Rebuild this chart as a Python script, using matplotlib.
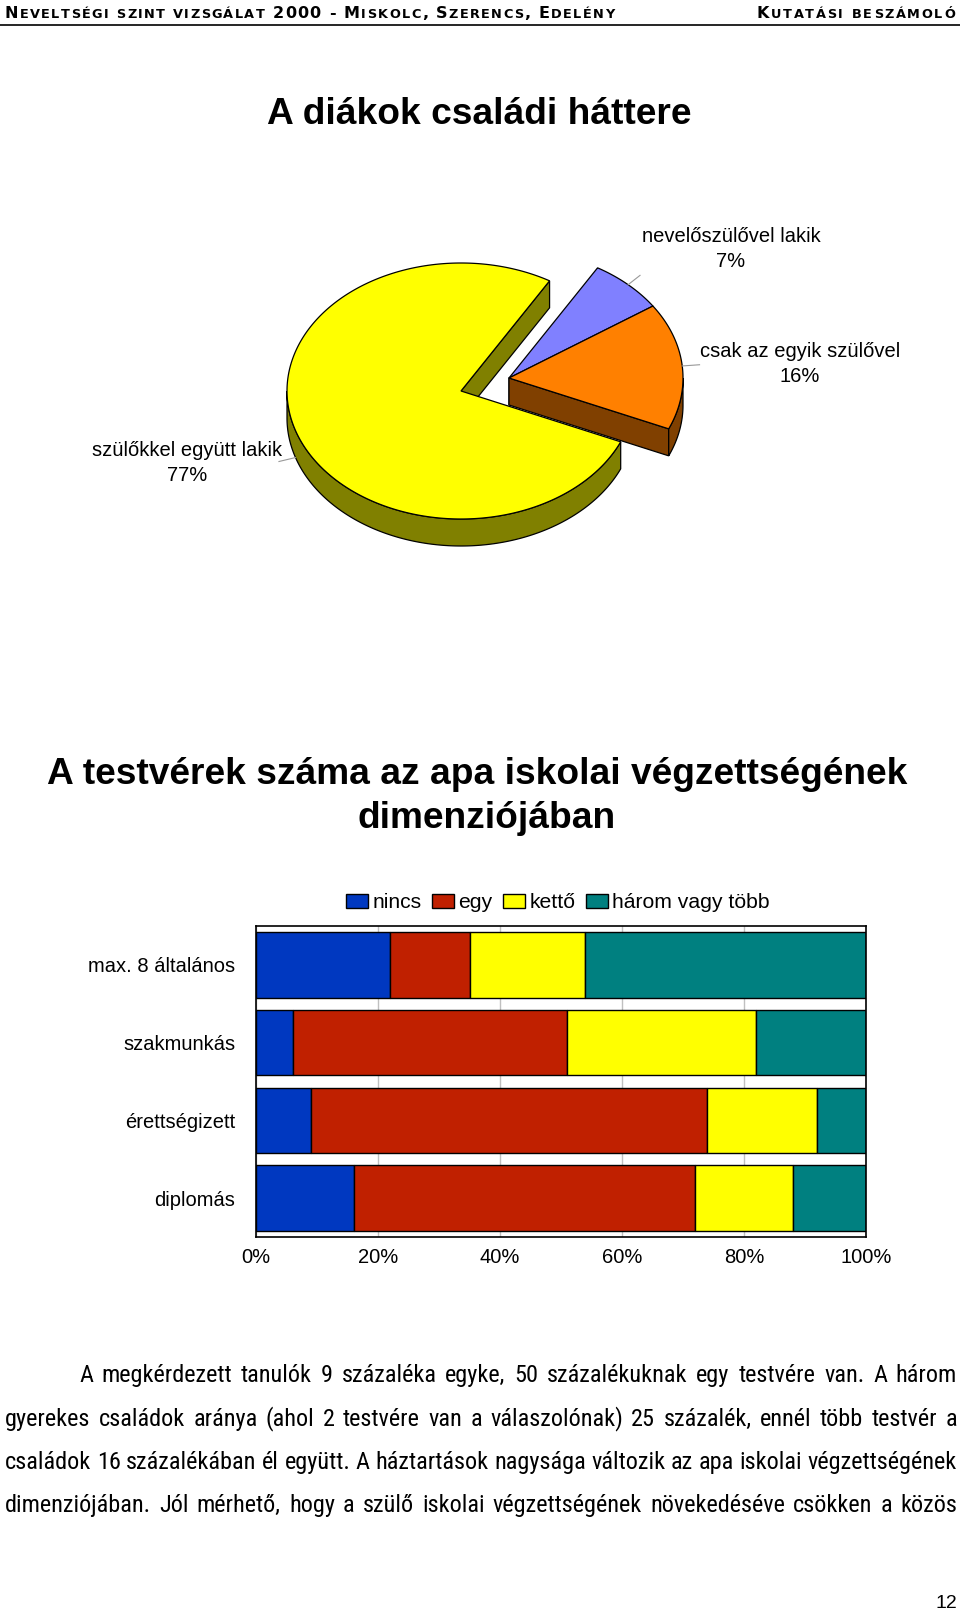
import numpy as np
import matplotlib
matplotlib.use("Agg")
import matplotlib.pyplot as plt
from matplotlib.font_manager import FontProperties, findfont, get_font
from matplotlib.backends.backend_agg import get_hinting_flag
from matplotlib.patches import Polygon

# ---- data ----
header_left = "Neveltségi szint vizsgálat 2000 - Miskolc, Szerencs, Edelény"
header_right = "Kutatási beszámoló"
title_pie = "A diákok családi háttere"
title_bar = ["A testvérek száma az apa iskolai végzettségének", "dimenziójában"]

pie_labels = ["csak az egyik szülővel", "nevelőszülővel lakik", "szülőkkel együtt lakik"]
pie_values = [16, 7, 77]
pie_top = ["#FF8000", "#8080FF", "#FFFF00"]
pie_side = ["#804000", "#404080", "#808000"]

bar_cats = ["max. 8 általános", "szakmunkás", "érettségizett", "diplomás"]
bar_series = ["nincs", "egy", "kettő", "három vagy több"]
nincs = [22, 6, 9, 16]
egy = [13, 45, 65, 56]
ketto = [19, 31, 18, 16]
harom = [46, 18, 8, 12]
bar_colors = ["#0038C0", "#C02000", "#FFFF00", "#008080"]
pct_ticks = [0, 20, 40, 60, 80, 100]

body_lines = [
    "A megkérdezett tanulók 9 százaléka egyke, 50 százalékuknak egy testvére van. A három",
    "gyerekes családok aránya (ahol 2 testvére van a válaszolónak) 25 százalék, ennél több testvér a",
    "családok 16 százalékában él együtt. A háztartások nagysága változik az apa iskolai végzettségének",
    "dimenziójában. Jól mérhető, hogy a szülő iskolai végzettségének növekedéséve csökken a közös",
]
page_no = "12"


def pick(*names):
    for n in names:
        try:
            findfont(FontProperties(family=n), fallback_to_default=False)
            return n
        except Exception:
            pass
    return None


SANS = pick("Liberation Sans", "Arial") or "DejaVu Sans"
WIDE = "DejaVu Sans"
NARROW = pick("Liberation Sans Narrow", "Arial Narrow", "Roboto Condensed",
              "Open Sans Condensed", "DejaVu Sans Condensed", "Noto Sans Condensed")
HAS_NARROW = NARROW is not None
if not HAS_NARROW:
    NARROW = SANS

fig = plt.figure(figsize=(9.6, 16.13), dpi=100)
page = fig.add_axes([0, 0, 1, 1])
page.set_xlim(0, 960)
page.set_ylim(1613, 0)
page.axis("off")
renderer = fig.canvas.get_renderer()


def put(x, base, s, size, family, weight="normal"):
    # keep the drawn baseline on the same pixel row for every word
    font = renderer._prepare_font(FontProperties(family=family, size=size, weight=weight))
    font.set_text(s, 0, flags=get_hinting_flag())
    w, h = font.get_width_height()
    d = font.get_descent()
    target = round(base)
    y = target + h // 64 - (h - d) // 64 - d / 64
    page.text(x, y, s, fontsize=size, family=family, fontweight=weight,
              ha="left", va="baseline")


def advances(chars, sizes, family, weight):
    out = []
    for ch, sz in zip(chars, sizes):
        font = get_font(findfont(FontProperties(family=family, weight=weight)))
        font.set_size(sz, 100)
        out.append(font.load_char(ord(ch)).linearHoriAdvance / 65536)
    return out


def small_caps(x0, x1, y, s, big, small):
    chars = [c.upper() for c in s]
    sizes = [small if c.islower() else big for c in s]
    adv = advances(chars, sizes, WIDE, "bold")
    track = (x1 - x0 - sum(adv)) / (len(chars) - 1)
    cur = x0
    for ch, sz, a in zip(chars, sizes, adv):
        if ch != " ":
            put(cur, y, ch, sz, WIDE, "bold")
        cur += a + track


def text_width(s, size, family, weight="normal"):
    t = page.text(0, 0, s, fontsize=size, family=family, fontweight=weight)
    w = t.get_window_extent(renderer).width
    t.remove()
    return w


def justified(x0, x1, y, line, size):
    words = line.split()
    ws = [text_width(w, size, NARROW) for w in words]
    gap = (x1 - x0 - sum(ws)) / (len(words) - 1)
    cur = x0
    for w, wd in zip(words, ws):
        put(cur, y, w, size, NARROW)
        cur += wd + gap


# ---- header ----
small_caps(5, 614, 18, header_left, 11.5, 9.3)
small_caps(757, 955, 18, header_right, 11.5, 9.3)
page.plot([0, 960], [24.5, 24.5], color="black", lw=1.2)

# ---- titles ----
page.text(479, 115, title_pie, fontsize=26.7, fontweight="bold", family=SANS,
          ha="center", va="center")
page.text(477, 774, title_bar[0], fontsize=26.7, fontweight="bold", family=SANS,
          ha="center", va="center")
page.text(487, 818, title_bar[1], fontsize=26.7, fontweight="bold", family=SANS,
          ha="center", va="center")

# ---- 3D pie ----
rx, ry, depth = 174, 128, 27
base = np.array([485.0, 385.0])
explode = [(24, -7), (24, -7), (-24, 6)]
label_pos = [(800, 364), (731, 249), (187, 463)]
start_angle = -23.4

angles = []
a = start_angle
for v in pie_values:
    angles.append((a, a + 360 * v / sum(pie_values)))
    a += 360 * v / sum(pie_values)


def ell(c, th):
    return np.column_stack([c[0] + rx * np.cos(th), c[1] - ry * np.sin(th)])


def draw_slice(i):
    t0, t1 = angles[i]
    c = base + np.array(explode[i])
    down = np.array([0, depth])
    p0 = ell(c, np.radians([t0]))[0]
    # cut face on the start edge, when it faces the viewer
    if np.cos(np.radians(t0)) > 0:
        page.add_patch(Polygon([c, p0, p0 + down, c + down], closed=True,
                               facecolor=pie_side[i], edgecolor="black", lw=0.9))
    # outer wall, front half only
    for k in (-1, 0, 1):
        lo, hi = max(t0, 180 + 360 * k), min(t1, 360 + 360 * k)
        if hi > lo:
            th = np.radians(np.linspace(lo, hi, 200))
            top = ell(c, th)
            wall = np.vstack([top, (top + down)[::-1]])
            page.add_patch(Polygon(wall, closed=True, facecolor=pie_side[i],
                                   edgecolor="black", lw=0.9))
    th = np.radians(np.linspace(t0, t1, 300))
    face = np.vstack([[c], ell(c, th)])
    page.add_patch(Polygon(face, closed=True, facecolor=pie_top[i],
                           edgecolor="black", lw=0.9))
    # leader line + label
    mid = np.radians((t0 + t1) / 2)
    pa = ell(c, [mid])[0]
    pb = c + 1.1 * (pa - c)
    if np.sin(mid) < 0:
        pa = pa + down
        pb = pb + down
    page.plot([pa[0], pb[0]], [pa[1], pb[1]], color="#999999", lw=0.8)
    page.text(label_pos[i][0], label_pos[i][1], f"{pie_labels[i]}\n{pie_values[i]}%",
              fontsize=14.5, family=SANS, ha="center", va="center", linespacing=1.4)


for i in (2, 1, 0):
    draw_slice(i)

# ---- stacked bar chart ----
ax = fig.add_axes([256 / 960, 1 - 1237 / 1613, 610 / 960, 311 / 1613])
y = np.arange(len(bar_cats))
left = np.zeros(len(bar_cats))
for vals, name, col in zip([nincs, egy, ketto, harom], bar_series, bar_colors):
    ax.barh(y, vals, left=left, height=0.845, color=col, edgecolor="black", lw=1, label=name)
    left += np.array(vals)
ax.set_xlim(0, 100)
ax.set_ylim(3.5, -0.5)
ax.set_xticks(pct_ticks)
ax.set_xticklabels([f"{t}%" for t in pct_ticks], fontsize=14.5, family=SANS)
ax.set_yticks(y)
ax.set_yticklabels(bar_cats, fontsize=14.5, family=SANS)
ax.tick_params(axis="x", length=0, pad=8)
ax.tick_params(axis="y", length=0, pad=15)
ax.xaxis.grid(True, color="#c0c0c0", lw=1)
ax.set_axisbelow(True)
for sp in ax.spines.values():
    sp.set_color("black")
    sp.set_linewidth(1.2)
ax.legend(loc="lower center", bbox_to_anchor=(0.495, 1.0), ncol=4, frameon=False,
          prop={"family": SANS, "size": 15.2}, handlelength=1.05, handleheight=0.65,
          handletextpad=0.2, columnspacing=0.5, borderaxespad=0.25)

# ---- body text ----
bsize = 17.5 if HAS_NARROW else 14.5
baselines = [1382, 1426, 1469, 1512]
for k, (line, yb) in enumerate(zip(body_lines, baselines)):
    justified(79 if k == 0 else 5, 957, yb, line, bsize)

page.text(957, 1603, page_no, fontsize=14, family=SANS, ha="right", va="center")

fig.savefig("out.png", dpi=100)
